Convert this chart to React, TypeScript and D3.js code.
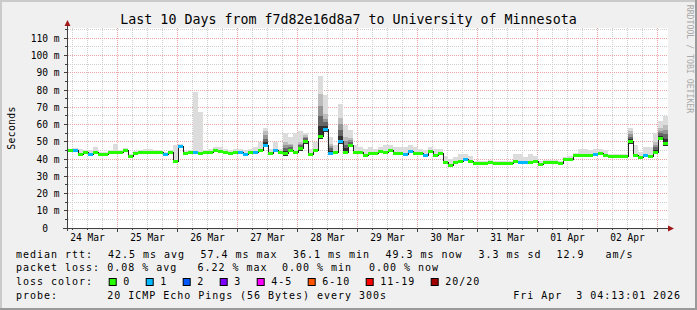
import React from 'react';
import * as d3 from 'd3';

// ---------- data ----------
const titleText = 'Last 10 Days from f7d82e16d8a7 to University of Minnesota';
const startMs = Date.UTC(2026, 2, 24, 4, 13, 1);
const endMs = Date.UTC(2026, 3, 3, 4, 13, 1);
const slotHours = 2;

// median RTT (ms), one value per 2-hour slot
const median = [
  45, 45, 42.5, 44, 42.5, 44, 42.5, 42.5, 44, 44,
  44, 45, 41.5, 43, 44, 44, 44, 44, 44, 42.5,
  44, 38.5, 47.5, 43, 44, 44, 43, 44, 44, 45,
  44.5, 44, 43, 44, 44, 42.5, 44, 44, 45, 48,
  43, 45, 44, 43, 45, 44, 46, 50, 42.5, 45,
  53, 57, 43.5, 44, 50, 44, 48, 44, 44, 42,
  43.5, 43, 44.5, 44, 45, 43, 43.5, 42.5, 44.5, 43.5,
  43, 42, 44.5, 42, 43, 38, 36.2, 38, 38.8, 39.5,
  38.8, 37.3, 37.3, 37.3, 38, 37.3, 37.3, 37.3, 37.3, 38.5,
  38, 38, 38, 38.8, 37, 37.8, 37.8, 37.8, 37.3, 39.5,
  39.8, 42, 42, 42, 42, 42.8, 43.5, 42, 41.5, 41.5,
  41.5, 41.5, 50, 42, 41, 41.8, 41.5, 44, 52, 49,
];

// lost pings (of 20) per slot
const lossCount = [
  0, 1, 0, 0, 1, 0, 0, 0, 0, 0,
  0, 0, 0, 0, 0, 0, 0, 0, 0, 1,
  0, 0, 1, 0, 0, 1, 0, 0, 0, 0,
  0, 0, 0, 0, 1, 1, 0, 1, 0, 1,
  0, 1, 0, 0, 0, 0, 0, 0, 0, 0,
  0, 1, 1, 0, 1, 0, 0, 0, 0, 0,
  0, 0, 0, 0, 0, 0, 0, 1, 1, 0,
  0, 1, 0, 0, 0, 0, 0, 0, 0, 1,
  0, 0, 0, 0, 0, 0, 0, 0, 0, 0,
  1, 1, 0, 0, 0, 0, 0, 0, 0, 0,
  0, 0, 0, 0, 0, 1, 0, 0, 0, 0,
  0, 0, 0, 0, 0, 1, 0, 0, 0, 0,
];

// highest ping per slot (ms) - top of the smoke
const smokeMax = [
  46, 46.5, 46, 45.5, 45, 47, 44, 44, 45.5, 49,
  45.5, 46.5, 43, 44.5, 45.5, 46, 46, 45.5, 45.5, 44,
  45.5, 48, 49, 44.5, 45.5, 79, 67, 45.5, 46, 47,
  47, 46, 45, 46, 46, 45, 46, 47, 50, 58,
  46, 50, 46, 55, 53, 55, 56, 55, 46, 50,
  88, 77, 53, 48, 72, 60, 57, 48, 47, 46,
  47, 46, 47, 48, 48, 47, 47, 47, 48, 47,
  46, 45, 47, 46, 46, 42, 40, 41, 43, 43,
  42, 39, 39, 39, 39.5, 39, 39, 39, 39, 43,
  43, 41, 43, 42, 39, 39.5, 39.5, 39.5, 39, 41,
  41.5, 43.5, 46, 46, 45, 46, 46, 45, 43, 43,
  43, 43, 58, 48, 44, 47, 47, 55, 62, 65,
];

// top of the dense part of the ping distribution (null = sparse)
const smokeDense: (number | null)[] = [
  null, null, null, null, null, null, null, null, null, null,
  null, null, null, null, null, null, null, null, null, null,
  null, null, null, null, null, null, null, null, null, null,
  null, null, null, null, null, null, null, null, null, 56,
  null, null, null, 50, 49, null, 50, 54, null, null,
  78, 66, 49, null, 64, 53, 52, null, null, null,
  null, null, null, null, null, null, null, null, null, null,
  null, null, null, null, null, null, null, null, null, null,
  null, null, null, null, null, null, null, null, null, null,
  null, null, null, null, null, null, null, null, null, null,
  null, null, null, null, null, null, null, null, null, null,
  null, null, 56, null, null, null, null, 50, 58, 60,
];

const yTicks = [0, 10, 20, 30, 40, 50, 60, 70, 80, 90, 100, 110];
const yMinor = [5, 15, 25, 35, 45, 55, 65, 75, 85, 95, 105, 115];
const yUnit = 'm';
const yAxisTitle = 'Seconds';

const lossLabels = ['0', '1', '2', '3', '4-5', '6-10', '11-19', '20/20'];
const lossUpper = [0, 1, 2, 3, 5, 10, 19, 20];
const lossColors = ['#26ff00', '#00b8ff', '#0059ff', '#7e00ff', '#ff00ff', '#ff5500', '#ff0000', '#a10000'];

const rttLegend = ['median rtt:', '42.5 ms avg', '57.4 ms max', '36.1 ms min', '49.3 ms now', '3.3 ms sd', '12.9\u00a0\u00a0\u00a0am/s'];
const lossLegend = ['packet loss:', '0.08 % avg', '6.22 % max', '0.00 % min', '0.00 % now'];
const colorLegendTitle = 'loss color:';
const probeLegend = ['probe:', '20 ICMP Echo Pings (56 Bytes) every 300s'];
const stampText = 'Fri Apr\u00a0\u00a03 04:13:01 2026';
const watermark = 'RRDTOOL / TOBI OETIKER';

// ---------- layout ----------
const W = 697;
const H = 310;
const PL = 68, PR = 668, PT = 28, PB = 228;
const rttX = [16, 108, 200.5, 293, 385.6, 478.5, 556.6];
const lossX = [16, 107.3, 197.5, 282, 369];
const probeX = [16, 107.3];
const stampX = 513.3;
const rows = [257.5, 271.3, 285.1, 298.9];
const MONO = "'DejaVu Sans Mono', 'Liberation Mono', monospace";

export default function App() {
  const x = d3.scaleUtc().domain([new Date(startMs), new Date(endMs)]).range([PL, PR]);
  const y = d3.scaleLinear().domain([0, 116]).range([PB, PT]);

  const slotTime = (i: number) => new Date(startMs + i * slotHours * 3600e3);
  const majorDays = d3.utcDay.range(new Date(startMs), new Date(endMs));
  const minorHours = d3.utcHour.every(6)!.range(new Date(startMs), new Date(endMs)).filter((d) => d.getUTCHours() !== 0);
  const labelDays = d3.utcDay
    .range(d3.utcDay.floor(new Date(startMs)), new Date(endMs))
    .map((d) => d3.utcHour.offset(d, 12))
    .filter((d) => d.getTime() > startMs && d.getTime() < endMs);
  const fmt = d3.utcFormat('%d %b');

  const colorFor = (n: number) => {
    const k = lossUpper.findIndex((u) => n <= u);
    return lossColors[k < 0 ? lossColors.length - 1 : k];
  };

  const linePts: [number, number][] = median.map((m, i) => [x(slotTime(i)), y(m)]);
  linePts.push([x(slotTime(median.length)), y(median[median.length - 1])]);
  const medLine = d3.line().curve(d3.curveStepAfter)(linePts) || '';

  const denseStops = [
    { f: 1.0, c: '#bcbcbc' },
    { f: 0.72, c: '#969696' },
    { f: 0.48, c: '#666666' },
    { f: 0.25, c: '#303030' },
  ];

  // legend colour boxes
  let bx = 108.7;
  const boxes = lossLabels.map((lab, k) => {
    const item = { x: bx, lab, c: lossColors[k] };
    bx += 30 + 7 * lab.length;
    return item;
  });

  const crisp = (v: number) => Math.floor(v) + 0.5;
  const pre = { whiteSpace: 'pre' as const };

  return (
    <svg
      width={W}
      height={H}
      style={{ position: 'absolute', left: 0, top: 0, display: 'block' }}
      fontFamily={MONO}
    >
      {/* background + frame */}
      <rect x={0} y={0} width={W} height={H} fill="#f0f0f0" />
      <rect x={0} y={0} width={W} height={2} fill="#cbcbcb" />
      <rect x={0} y={0} width={2} height={H} fill="#cbcbcb" />
      <rect x={0} y={H - 2} width={W} height={2} fill="#9a9a9a" />
      <rect x={W - 2} y={0} width={2} height={H} fill="#9a9a9a" />

      {/* canvas */}
      <rect x={PL} y={PT} width={PR - PL} height={PB - PT} fill="#ffffff" />

      {/* minor grid */}
      <g stroke="#cfcfcf" strokeWidth={1} strokeDasharray="1 1" shapeRendering="crispEdges">
        {minorHours.map((d, i) => (
          <line key={'mv' + i} x1={crisp(x(d))} x2={crisp(x(d))} y1={PT} y2={PB} />
        ))}
        {yMinor.map((v) => (
          <line key={'mh' + v} x1={PL} x2={PR} y1={crisp(y(v))} y2={crisp(y(v))} />
        ))}
      </g>
      {/* major grid */}
      <g stroke="#e8a4a4" strokeWidth={1} strokeDasharray="1 1" shapeRendering="crispEdges">
        {majorDays.map((d, i) => (
          <line key={'Mv' + i} x1={crisp(x(d))} x2={crisp(x(d))} y1={PT} y2={PB} />
        ))}
        {yTicks.filter((v) => v > 0).map((v) => (
          <line key={'Mh' + v} x1={PL} x2={PR} y1={crisp(y(v))} y2={crisp(y(v))} />
        ))}
      </g>

      {/* smoke */}
      <g shapeRendering="crispEdges">
        {median.map((m, i) => {
          const x0 = x(slotTime(i));
          const w = x(slotTime(i + 1)) - x0;
          const top = y(smokeMax[i]);
          const base = y(m);
          return <rect key={'s' + i} x={x0} y={top} width={w} height={Math.max(0, base - top + 1)} fill="#dcdcdc" />;
        })}
        {median.map((m, i) => {
          const dn = smokeDense[i];
          if (dn == null) return null;
          const x0 = x(slotTime(i));
          const w = x(slotTime(i + 1)) - x0;
          return (
            <g key={'d' + i}>
              {denseStops.map((s, k) => {
                const top = y(m + (dn - m) * s.f);
                const base = y(m) + 2;
                return <rect key={k} x={x0} y={top} width={w} height={base - top} fill={s.c} />;
              })}
            </g>
          );
        })}
      </g>

      {/* median line */}
      <path d={medLine} fill="none" stroke="#202020" strokeWidth={1} shapeRendering="crispEdges" />
      <g shapeRendering="crispEdges">
        {median.map((m, i) => {
          const x0 = x(slotTime(i));
          const w = x(slotTime(i + 1)) - x0;
          return <rect key={'b' + i} x={x0} y={y(m) - 1.5} width={w} height={3} fill={colorFor(lossCount[i])} />;
        })}
      </g>

      {/* axes */}
      <g stroke="#404040" strokeWidth={1} shapeRendering="crispEdges">
        <line x1={67.5} x2={67.5} y1={231} y2={24} />
        <line x1={63} x2={670} y1={228.5} y2={228.5} />
        {majorDays.map((d, i) => (
          <line key={'t' + i} x1={crisp(x(d))} x2={crisp(x(d))} y1={228} y2={232} />
        ))}
        {minorHours.map((d, i) => (
          <line key={'tm' + i} x1={crisp(x(d))} x2={crisp(x(d))} y1={228} y2={230} />
        ))}
        {yTicks.map((v) => (
          <line key={'yt' + v} x1={64} x2={67} y1={crisp(y(v))} y2={crisp(y(v))} />
        ))}
        {yMinor.map((v) => (
          <line key={'ytm' + v} x1={65} x2={67} y1={crisp(y(v))} y2={crisp(y(v))} />
        ))}
      </g>
      <path d="M67.5,20 L64.5,26 L70.5,26 Z" fill="#a01818" />
      <path d="M674,228.5 L668,225.5 L668,231.5 Z" fill="#a01818" />

      {/* y labels */}
      <g fontSize={9.6} fill="#000">
        {yTicks.map((v) => (
          <g key={'yl' + v}>
            <text x={48} y={y(v) + 3.5} textAnchor="end">
              {v}
            </text>
            {v > 0 && (
              <text x={53.8} y={y(v) + 3.5}>
                {yUnit}
              </text>
            )}
          </g>
        ))}
      </g>

      {/* x labels */}
      <g fontSize={9.6} fill="#000" textAnchor="middle">
        {labelDays.map((d, i) => (
          <text key={'xl' + i} x={x(d)} y={241}>
            {fmt(d)}
          </text>
        ))}
      </g>

      {/* axis title */}
      <text x={15} y={128} fontSize={9.8} textAnchor="middle" transform="rotate(-90 15 128)" letterSpacing={0.3}>
        {yAxisTitle}
      </text>

      {/* title */}
      <text x={348.5} y={24} fontSize={13.3} textAnchor="middle" fill="#000">
        {titleText}
      </text>

      {/* watermark */}
      <text x={686} y={59} fontSize={8.2} fill="#a8a8a8" textAnchor="middle" transform="rotate(90 686 59)" dy={-1}>
        {watermark}
      </text>

      {/* legend */}
      <g fontSize={10} fill="#000" letterSpacing={0.97}>
        {rttLegend.map((s, i) => (
          <text key={'r' + i} x={rttX[i]} y={rows[0]} style={pre} xmlSpace="preserve">
            {s}
          </text>
        ))}
        {lossLegend.map((s, i) => (
          <text key={'l' + i} x={lossX[i]} y={rows[1]} style={pre} xmlSpace="preserve">
            {s}
          </text>
        ))}
        <text x={16} y={rows[2]}>
          {colorLegendTitle}
        </text>
        {boxes.map((b, k) => (
          <g key={'bx' + k}>
            <rect x={b.x + 0.5} y={278.5} width={7} height={7} fill={b.c} stroke="#000" strokeWidth={1} />
            <text x={b.x + 14.6} y={rows[2]}>
              {b.lab}
            </text>
          </g>
        ))}
        {probeLegend.map((s, i) => (
          <text key={'p' + i} x={probeX[i]} y={rows[3]} style={pre} xmlSpace="preserve">
            {s}
          </text>
        ))}
        <text x={stampX} y={rows[3]} style={pre} xmlSpace="preserve">
          {stampText}
        </text>
      </g>
    </svg>
  );
}
